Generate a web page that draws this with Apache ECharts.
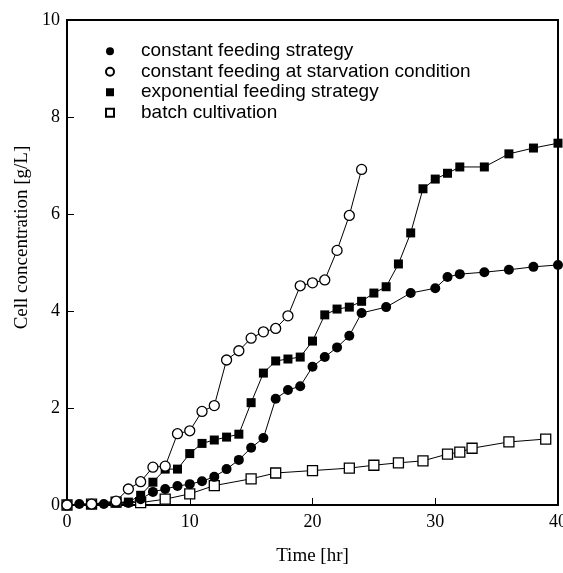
<!DOCTYPE html>
<html>
<head>
<meta charset="utf-8">
<script src="https://cdn.jsdelivr.net/npm/echarts@6/dist/echarts.min.js"></script>
<style>html,body{margin:0;padding:0;background:#fff}#c{width:563px;height:573px}</style>
</head>
<body>
<div id="c"></div>
<script>
var xTicks = [0, 10, 20, 30, 40];
var yTicks = [0, 2, 4, 6, 8, 10];

var constT = [0, 1, 3, 5, 6, 7, 8, 9, 10, 11, 12, 13, 14, 15, 16, 17, 18, 19, 20, 21, 22, 23, 24, 26, 28, 30, 31, 32, 34, 36, 38, 40];
var constY = [0, 0.02, 0.02, 0.04, 0.12, 0.27, 0.33, 0.39, 0.43, 0.49, 0.58, 0.74, 0.93, 1.18, 1.38, 2.19, 2.37, 2.45, 2.85, 3.05, 3.25, 3.49, 3.96, 4.08, 4.37, 4.47, 4.70, 4.76, 4.80, 4.85, 4.91, 4.95];

var starvT = [0, 2, 4, 5, 6, 7, 8, 9, 10, 11, 12, 13, 14, 15, 16, 17, 18, 19, 20, 21, 22, 23, 24];
var starvY = [0, 0.02, 0.08, 0.33, 0.48, 0.78, 0.80, 1.47, 1.53, 1.93, 2.05, 2.99, 3.18, 3.44, 3.57, 3.64, 3.90, 4.52, 4.58, 4.64, 5.25, 5.97, 6.92];

var expoT = [0, 2, 4, 5, 6, 7, 8, 9, 10, 11, 12, 13, 14, 15, 16, 17, 18, 19, 20, 21, 22, 23, 24, 25, 26, 27, 28, 29, 30, 31, 32, 34, 36, 38, 40];
var expoY = [0, 0.01, 0.04, 0.06, 0.20, 0.47, 0.74, 0.74, 1.06, 1.27, 1.34, 1.40, 1.46, 2.11, 2.72, 2.97, 3.01, 3.05, 3.38, 3.92, 4.04, 4.08, 4.20, 4.37, 4.50, 4.97, 5.61, 6.52, 6.72, 6.84, 6.97, 6.97, 7.24, 7.36, 7.46];

var batchT = [0, 2, 4, 6, 8, 10, 12, 15, 17, 20, 23, 25, 27, 29, 31, 32, 33, 36, 39];
var batchY = [0, 0.02, 0.06, 0.05, 0.12, 0.23, 0.40, 0.54, 0.66, 0.71, 0.76, 0.82, 0.87, 0.91, 1.05, 1.09, 1.17, 1.30, 1.36];

var names = ['constant feeding strategy', 'constant feeding at starvation condition', 'exponential feeding strategy', 'batch cultivation'];

function pairs(t, y) { return t.map(function (v, i) { return [v, y[i]]; }); }

function mk(name, t, y, symbol, filled, size) {
  return {
    name: name, type: 'line', data: pairs(t, y),
    symbol: symbol, symbolSize: size, showSymbol: true,
    lineStyle: { color: '#000', width: 1 },
    itemStyle: { color: filled ? '#000' : '#fff', borderColor: '#000', borderWidth: filled ? 0 : 1.3 },
    emphasis: { disabled: true }, animation: false
  };
}

var serif = 'Liberation Serif, Times New Roman, serif';
var chart = echarts.init(document.getElementById('c'), null, { renderer: 'canvas' });
chart.setOption({
  animation: false,
  backgroundColor: '#fff',
  grid: { left: 67, right: 5, top: 20, bottom: 68, show: true, borderColor: '#000', borderWidth: 2, backgroundColor: 'transparent', outerBoundsMode: 'none', containLabel: false },
  legend: {
    orient: 'vertical', left: 100, top: 36, itemGap: 0,
    itemWidth: 8, itemHeight: 8,
    data: [
      { name: names[0], icon: 'circle' },
      { name: names[1], icon: 'circle' },
      { name: names[2], icon: 'rect' },
      { name: names[3], icon: 'rect' }
    ],
    textStyle: { fontFamily: 'Liberation Sans, Arial, sans-serif', fontSize: 19, lineHeight: 20.5, color: '#000', padding: [0, 0, 0, 22] },
    selectedMode: false
  },
  xAxis: {
    type: 'value', min: 0, max: 40, interval: 10,
    name: 'Time [hr]', nameLocation: 'middle', nameGap: 42,
    nameTextStyle: { fontFamily: serif, fontSize: 19, color: '#000' },
    axisLine: { show: true, lineStyle: { color: '#000', width: 2 } },
    axisTick: { show: true, inside: true, length: 7, lineStyle: { color: '#000', width: 1 } },
    axisLabel: { fontFamily: serif, fontSize: 18, color: '#000', margin: 8,
      formatter: function (v) { return xTicks.indexOf(v) >= 0 ? String(v) : ''; } },
    splitLine: { show: false }
  },
  yAxis: {
    type: 'value', min: 0, max: 10, interval: 2,
    name: 'Cell concentration [g/L]', nameLocation: 'middle', nameGap: 34,
    nameTextStyle: { fontFamily: serif, fontSize: 19, color: '#000', padding: [0, 0, 0, 50] },
    axisLine: { show: true, lineStyle: { color: '#000', width: 2 } },
    axisTick: { show: true, inside: true, length: 7, lineStyle: { color: '#000', width: 1 } },
    axisLabel: { fontFamily: serif, fontSize: 18, color: '#000', margin: 7,
      formatter: function (v) { return yTicks.indexOf(v) >= 0 ? String(v) : ''; } },
    splitLine: { show: false }
  },
  series: [
    mk(names[3], batchT, batchY, 'rect', false, 10),
    mk(names[0], constT, constY, 'circle', true, 10),
    mk(names[2], expoT, expoY, 'rect', true, 9),
    mk(names[1], starvT, starvY, 'circle', false, 10)
  ]
});
</script>
</body>
</html>
